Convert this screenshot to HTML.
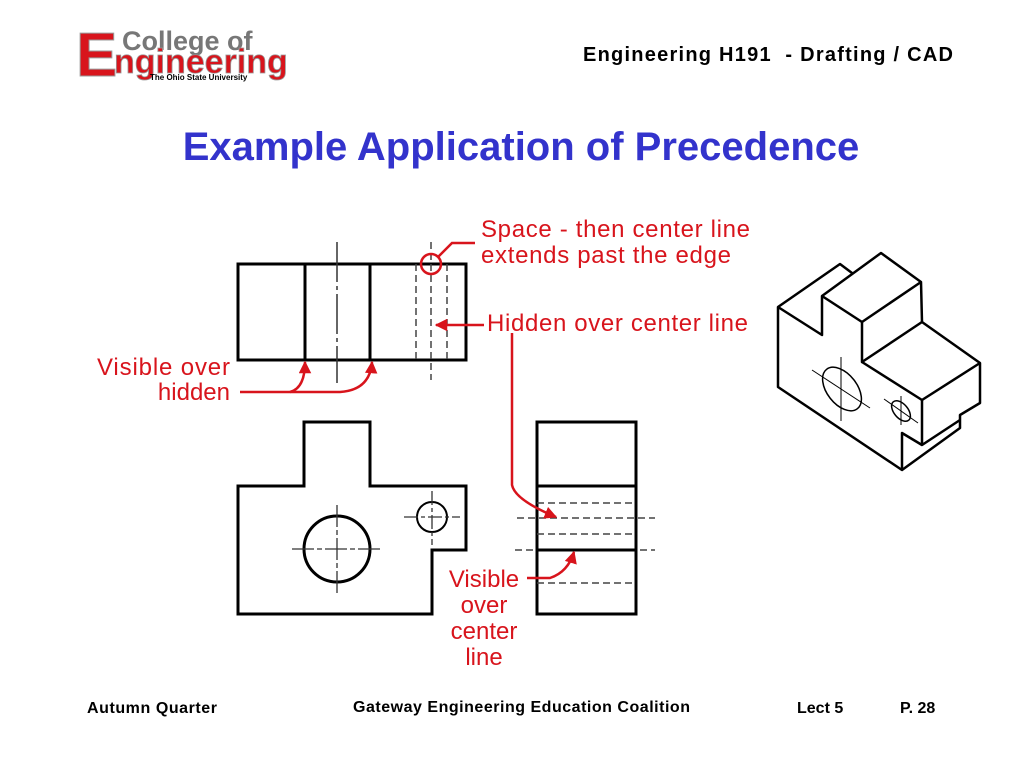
<!DOCTYPE html>
<html><head><meta charset="utf-8"><style>
body{margin:0;background:#fff;width:1024px;height:768px;overflow:hidden;font-family:"Liberation Sans",sans-serif}
</style></head><body>
<svg width="1024" height="768" xmlns="http://www.w3.org/2000/svg" font-family="Liberation Sans, sans-serif">
<defs><marker id="ar" viewBox="0 0 10 10" refX="9" refY="5" markerWidth="5" markerHeight="5" orient="auto"><path d="M0,0L10,5L0,10z" fill="#d8141c"/></marker></defs>
<text x="76" y="76" font-size="62" font-weight="bold" fill="#d8141c" stroke="#999" stroke-width="1">E</text>
<text x="122" y="50" font-size="27" font-weight="bold" fill="#777">College of</text>
<text x="114" y="73" font-size="34" font-weight="bold" fill="#d8141c" stroke="#999" stroke-width="0.8">ngineering</text>
<text x="150" y="80" font-size="8" font-weight="bold" fill="#000">The Ohio State University</text>
<text x="583" y="61" font-size="20" font-weight="bold" textLength="370" xml:space="preserve">Engineering H191  - Drafting / CAD</text>
<text x="521" y="160" font-size="40" font-weight="bold" fill="#3333cc" text-anchor="middle">Example Application of Precedence</text>
<g stroke="#000" fill="none">
<rect x="238" y="264" width="228" height="96" stroke-width="3"/>
<line x1="305" y1="264" x2="305" y2="360" stroke-width="3"/>
<line x1="370" y1="264" x2="370" y2="360" stroke-width="3"/>
<line x1="337" y1="242" x2="337" y2="383" stroke-width="1.5" stroke-dasharray="40,4,4,4" stroke="#333"/>
<line x1="416" y1="264" x2="416" y2="360" stroke-width="1.5" stroke-dasharray="7,4" stroke="#444"/>
<line x1="447" y1="264" x2="447" y2="360" stroke-width="1.5" stroke-dasharray="7,4" stroke="#444"/>
<line x1="431" y1="242" x2="431" y2="380" stroke-width="1.5" stroke-dasharray="7,4" stroke="#444"/>
<polygon points="238,486 304,486 304,422 370,422 370,486 466,486 466,550 432,550 432,614 238,614" stroke-width="3"/>
<circle cx="337" cy="549" r="33" stroke-width="3"/>
<circle cx="432" cy="517" r="15" stroke-width="2"/>
<g stroke-width="1.3" stroke="#333">
<line x1="292" y1="549" x2="383" y2="549" stroke-dasharray="22,3,5,3"/>
<line x1="337" y1="505" x2="337" y2="594" stroke-dasharray="22,3,5,3"/>
<line x1="404" y1="517" x2="460" y2="517" stroke-dasharray="14,3,4,3"/>
<line x1="432" y1="491" x2="432" y2="545" stroke-dasharray="14,3,4,3"/>
</g>
<rect x="537" y="422" width="99" height="192" stroke-width="3"/>
<line x1="537" y1="486" x2="636" y2="486" stroke-width="3"/>
<line x1="537" y1="550" x2="636" y2="550" stroke-width="3"/>
<g stroke-width="1.5" stroke="#444" stroke-dasharray="7,4">
<line x1="537" y1="503" x2="636" y2="503"/>
<line x1="517" y1="518" x2="655" y2="518"/>
<line x1="537" y1="534" x2="636" y2="534"/>
<line x1="515" y1="550" x2="533" y2="550"/>
<line x1="640" y1="550" x2="655" y2="550"/>
<line x1="537" y1="583" x2="636" y2="583"/>
</g>
<g stroke-width="2.5" stroke-linejoin="round">
<polyline points="852,273 840,264 778,307 778,387 902,470 960,428 960,415 980,403 980,363 922,322 921,282 881,253 822,296 822,335 778,307"/>
<polyline points="822,296 862,322 921,282"/>
<polyline points="862,322 862,362 922,322"/>
<polyline points="862,362 922,400 980,363"/>
<polyline points="922,400 922,445 960,420"/>
<polyline points="902,470 902,433 922,445"/>
</g>
<g stroke-width="1.5">
<ellipse cx="842" cy="389" rx="25" ry="15" transform="rotate(52 842 389)"/>
<ellipse cx="901" cy="411" rx="12" ry="7" transform="rotate(50 901 411)"/>
<line x1="812" y1="370" x2="870" y2="408" stroke-width="1"/>
<line x1="841" y1="357" x2="841" y2="421" stroke-width="1"/>
<line x1="884" y1="399" x2="918" y2="423" stroke-width="1"/>
<line x1="901" y1="396" x2="901" y2="425" stroke-width="1"/>
</g>
</g>
<g stroke="#d8141c" fill="none" stroke-width="2.5">
<circle cx="431" cy="264" r="10"/>
<polyline points="438,257 452,243 475,243"/>
<line x1="484" y1="325" x2="436" y2="325" marker-end="url(#ar)"/>
<path d="M240,392 L340,392 Q370,390 372,362" marker-end="url(#ar)"/>
<path d="M290,392 Q305,388 305,362" marker-end="url(#ar)"/>
<path d="M512,333 L512,485 Q515,500 556,517" marker-end="url(#ar)"/>
<path d="M527,578 L550,578 Q568,572 574,552" marker-end="url(#ar)"/>
</g>
<g fill="#d8141c" font-size="24">
<text x="481" y="237" textLength="269">Space - then center line</text>
<text x="481" y="263" textLength="250">extends past the edge</text>
<text x="487" y="331" textLength="261">Hidden over center line</text>
<text x="97" y="375" textLength="133">Visible over</text>
<text x="230" y="400" text-anchor="end">hidden</text>
<g text-anchor="middle"><text x="484" y="587">Visible</text><text x="484" y="613">over</text><text x="484" y="639">center</text><text x="484" y="665">line</text></g>
</g>
<g font-size="16" font-weight="bold">
<text x="87" y="713" textLength="130">Autumn Quarter</text>
<text x="353" y="712" textLength="337">Gateway Engineering Education Coalition</text>
<text x="797" y="713">Lect 5</text>
<text x="900" y="713">P. 28</text>
</g>
</svg>
</body></html>
